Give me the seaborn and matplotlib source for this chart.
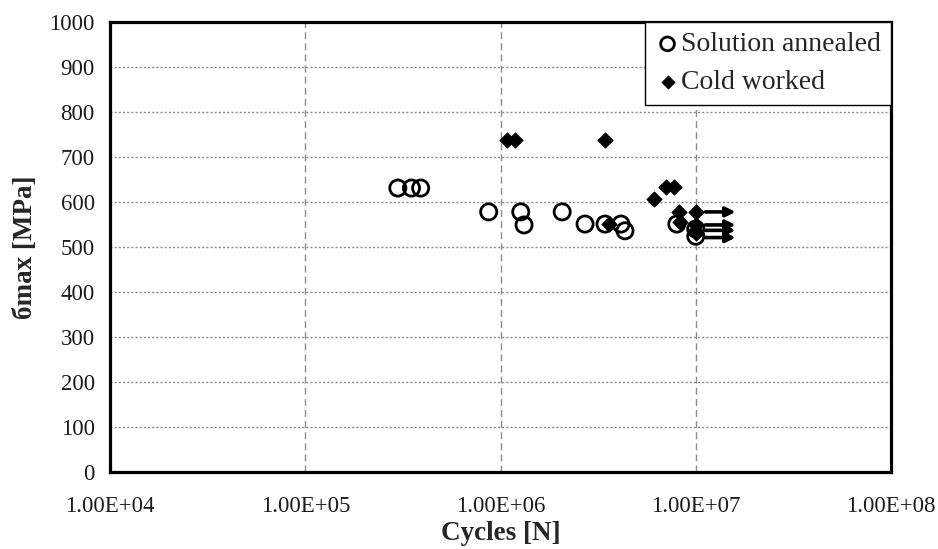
import numpy as np
import pandas as pd
import matplotlib
matplotlib.use("Agg")
import matplotlib.pyplot as plt
from matplotlib.ticker import FixedLocator, FuncFormatter, NullLocator
import seaborn as sns

# ---- data ----
sa_cycles = [2.98e5, 3.5e5, 3.9e5, 8.7e5, 1.27e6, 1.32e6, 2.07e6, 2.71e6,
             3.43e6, 4.14e6, 4.34e6, 8.0e6, 1.0e7, 1.0e7]
sa_stress = [631, 631, 631, 578, 578, 549, 578, 551,
             551, 551, 536, 551, 540, 524]

cw_cycles = [1.08e6, 1.19e6, 3.43e6, 3.6e6, 6.1e6, 7.0e6, 7.7e6, 8.2e6,
             1.0e7, 8.3e6, 1.0e7, 1.0e7]
cw_stress = [738, 738, 738, 551, 607, 633, 633, 578,
             578, 556, 549, 531]

runout_stress = [578, 549, 537, 521]

series_labels = ["Solution annealed", "Cold worked"]
x_ticks = [1e4, 1e5, 1e6, 1e7, 1e8]
y_ticks = list(range(0, 1001, 100))

sa = pd.DataFrame({"Cycles": sa_cycles, "Stress": sa_stress})
cw = pd.DataFrame({"Cycles": cw_cycles, "Stress": cw_stress})

sns.set_style("white")
plt.rcParams["font.family"] = ["Liberation Serif", "DejaVu Serif"]

fig = plt.figure(figsize=(9.38, 5.49), dpi=100)
ax = fig.add_axes([110 / 938, 1 - 472 / 549, 781 / 938, 450 / 549])

sns.scatterplot(data=sa, x="Cycles", y="Stress", ax=ax, marker="o", s=135,
                facecolors="none", edgecolor="black", linewidth=2.0,
                label=series_labels[0], zorder=3)
sns.scatterplot(data=cw, x="Cycles", y="Stress", ax=ax, marker="D", s=62,
                color="black", edgecolor="black", linewidth=0.5,
                label=series_labels[1], zorder=4)

for yv in runout_stress:
    ax.annotate("", xy=(1.6e7, yv), xytext=(1.12e7, yv),
                arrowprops=dict(arrowstyle="-|>", lw=2.6, color="black",
                                mutation_scale=14, shrinkA=0, shrinkB=0),
                zorder=5)

ax.set_xscale("log")
ax.set_xlim(1e4, 1e8)
ax.set_ylim(0, 1000)
ax.xaxis.set_major_locator(FixedLocator(x_ticks))
ax.xaxis.set_minor_locator(NullLocator())
ax.xaxis.set_major_formatter(FuncFormatter(lambda v, p: f"{v:.2E}"))
ax.yaxis.set_major_locator(FixedLocator(y_ticks))

ax.grid(False)
for yv in y_ticks[1:-1]:
    ax.axhline(yv, color="#8c8c8c", lw=1.0, ls=(0, (1.5, 1.5)), zorder=1)
for xv in x_ticks[1:-1]:
    ax.axvline(xv, color="#8c8c8c", lw=1.0, ls=(0, (5, 3)), zorder=1)

for s in ax.spines.values():
    s.set_visible(True)
    s.set_color("black")
    s.set_linewidth(2.3)

ax.tick_params(axis="both", which="major", direction="out", length=6,
               width=1, color="#8c8c8c", labelsize=16.5, labelcolor="#1a1a1a")
ax.tick_params(axis="x", pad=11)
ax.tick_params(axis="y", pad=5)

ax.set_xlabel("Cycles [N]", fontsize=19.5, fontweight="bold", labelpad=3)
ax.set_ylabel("бmax [MPa]", fontsize=19.5, fontweight="bold", labelpad=8)

leg = ax.legend(loc="upper right", borderaxespad=0, frameon=True,
                fancybox=False, framealpha=1, edgecolor="black",
                fontsize=20, handletextpad=0.05, handlelength=0.9,
                labelspacing=0.45, borderpad=0.35, markerscale=0.85)
leg.get_frame().set_linewidth(1.0)

fig.savefig("out.png", dpi=100)
